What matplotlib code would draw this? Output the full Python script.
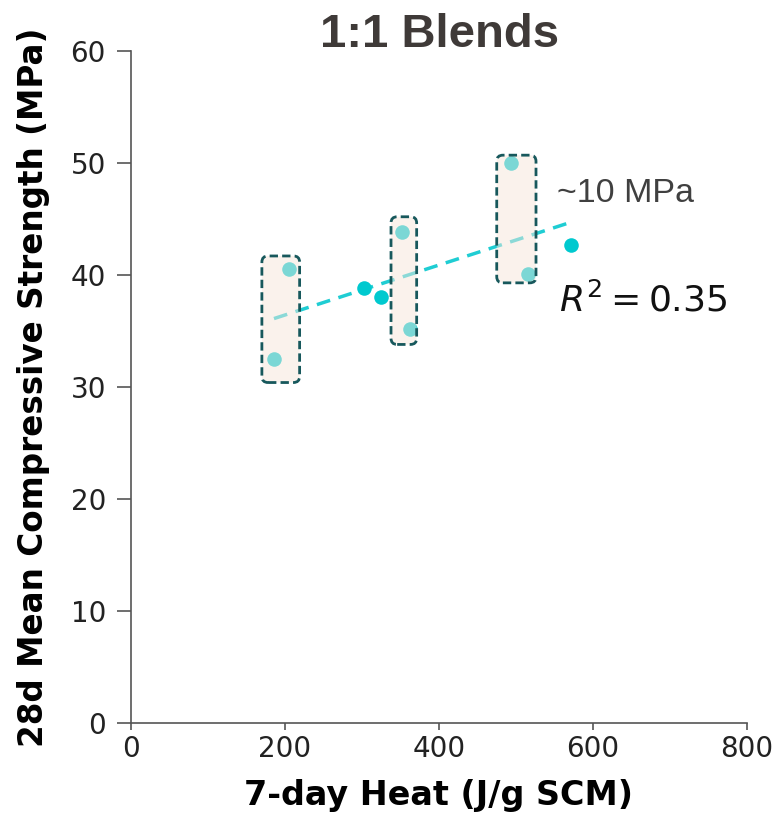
import numpy as np
import matplotlib.pyplot as plt
from matplotlib.patches import FancyBboxPatch

# 7-day heat (J/g SCM) and 28d strength (MPa) for the 1:1 blends
heat = [185.7, 205, 302.6, 324.7, 352, 362, 493.5, 515.6, 571.4]
strength = [32.5, 40.5, 38.8, 38.0, 43.8, 35.2, 50.0, 40.1, 42.7]

# highlighted groups: (x0, x1, y0, y1)
boxes = [(170, 219, 30.4, 41.7), (337.7, 371, 33.8, 45.2), (475, 526, 39.3, 50.7)]

xticks = [0, 200, 400, 600, 800]
yticks = [0, 10, 20, 30, 40, 50, 60]

dot = '#00c9cf'

fig = plt.figure(figsize=(7.76, 8.15), dpi=100)
ax = fig.add_axes([0.1688, 0.1129, 0.7938, 0.8245])

ax.scatter(heat, strength, s=110, color=dot, zorder=3, linewidths=0)

k, b = np.polyfit(heat, strength, 1)
xs = np.array([min(heat), max(heat)])
ax.plot(xs, k * xs + b, ls=(0, (4, 2.5)), lw=2.5, color='#1fcdd3', zorder=2)

# data units per pixel differ a lot between x and y, so squash the rounding
aspect = 0.77 / 11.2
for x0, x1, y0, y1 in boxes:
    ax.add_patch(FancyBboxPatch((x0, y0), x1 - x0, y1 - y0,
                                boxstyle='round,pad=0,rounding_size=8',
                                mutation_aspect=aspect,
                                facecolor=(0.97, 0.90, 0.86, 0.5),
                                edgecolor='#17585c', ls=(0, (3, 1.5)), lw=2,
                                zorder=4))

ax.set_xlim(0, 800)
ax.set_ylim(0, 60)
ax.set_xticks(xticks)
ax.set_yticks(yticks)
ax.tick_params(labelsize=20, width=1.2, color='#555555', labelcolor='#222222')
ax.tick_params(axis='x', length=5, pad=4)
ax.tick_params(axis='y', length=10, pad=8)
for s in ['top', 'right']:
    ax.spines[s].set_visible(False)
for s in ['left', 'bottom']:
    ax.spines[s].set_color('#555555')
    ax.spines[s].set_linewidth(1.2)

ax.set_xlabel('7-day Heat (J/g SCM)', fontsize=24, fontweight='bold', labelpad=11)
ax.set_ylabel('28d Mean Compressive Strength (MPa)', fontsize=23.5, fontweight='bold', labelpad=15)

fig.text(0.566, 0.957, '1:1 Blends', ha='center', va='center', fontsize=34,
         fontweight='bold', family='Liberation Sans', color='#3f3a38')
ax.text(553, 47.3, '~10 MPa', fontsize=24.5, family='Liberation Sans', color='#404040', va='center')
ax.text(556, 37.7, '$R^2 = 0.35$', fontsize=26, color='#111111', va='center')

fig.savefig('out.png', dpi=100)
